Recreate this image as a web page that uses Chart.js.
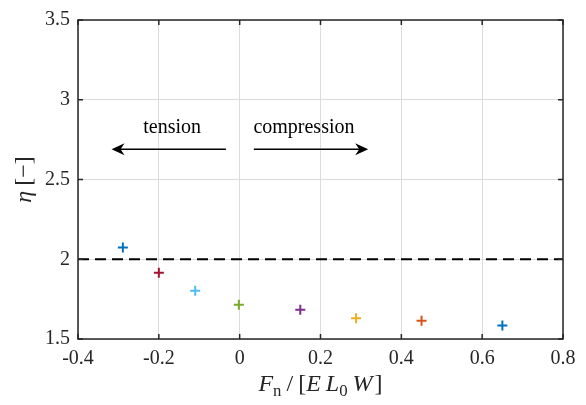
<!DOCTYPE html>
<html>
<head>
<meta charset="utf-8">
<script src="https://cdn.jsdelivr.net/npm/chart.js@4.4.1/dist/chart.umd.min.js"></script>
<style>
  html, body { margin: 0; padding: 0; background: #fff; }
  #c { display: block; }
</style>
</head>
<body>
<canvas id="c" width="586" height="405"></canvas>
<script>
// data
const forceValues = [-0.289, -0.2, -0.11, -0.002, 0.15, 0.288, 0.45, 0.65];
const etaValues = [2.074, 1.915, 1.802, 1.714, 1.683, 1.630, 1.615, 1.585];
const pointColors = ['#0072BD', '#A2142F', '#4DBEEE', '#77AC30', '#7E2F8E', '#EDB120', '#D95319', '#0072BD'];
const refLineX = [-0.4, 0.8];
const refLineY = [2, 2];
const xTicks = [-0.4, -0.2, 0, 0.2, 0.4, 0.6, 0.8];
const yTicks = [1.5, 2, 2.5, 3, 3.5];

// annotation text and arrows (data coords)
const notes = [
  { text: 'tension', x: -0.167, y: 2.79 },
  { text: 'compression', x: 0.159, y: 2.79 }
];
const arrows = [
  { from: -0.034, to: -0.317, y: 2.69 },
  { from: 0.035, to: 0.318, y: 2.69 }
];

const SERIF = '"Liberation Serif", "DejaVu Serif", serif';
const axisColor = '#262626';

function fmt(v) {
  return String(Number(v.toFixed(2)));
}

// draws a row of text pieces (italic / subscript) centred at x
function drawRich(ctx, parts, x, y, size) {
  const pieces = parts.map(p => {
    const s = p.sub ? size * 0.7 : size;
    ctx.font = (p.italic ? 'italic ' : '') + s + 'px ' + SERIF;
    return { p, s, w: ctx.measureText(p.t).width + (p.gap || 0) };
  });
  const total = pieces.reduce((a, b) => a + b.w, 0);
  let cx = x - total / 2;
  pieces.forEach(({ p, s, w }) => {
    ctx.font = (p.italic ? 'italic ' : '') + s + 'px ' + SERIF;
    ctx.fillText(p.t, cx, y + (p.sub ? size * 0.22 : 0));
    cx += w;
  });
}

function drawArrow(ctx, x1, x2, y) {
  const dir = Math.sign(x2 - x1);
  ctx.beginPath();
  ctx.moveTo(x1, y);
  ctx.lineTo(x2 - dir * 6, y);
  ctx.stroke();
  ctx.beginPath();
  ctx.moveTo(x2, y);
  ctx.lineTo(x2 - dir * 13, y - 6);
  ctx.lineTo(x2 - dir * 9, y);
  ctx.lineTo(x2 - dir * 13, y + 6);
  ctx.closePath();
  ctx.fill();
}

const framePlugin = {
  id: 'frame',
  afterDraw(chart) {
    const ctx = chart.ctx;
    const a = chart.chartArea;
    const xs = chart.scales.x, ys = chart.scales.y;
    ctx.save();

    // annotations
    ctx.fillStyle = '#000';
    ctx.strokeStyle = '#000';
    ctx.lineWidth = 1.6;
    ctx.font = '20px ' + SERIF;
    ctx.textAlign = 'center';
    ctx.textBaseline = 'alphabetic';
    notes.forEach(n => ctx.fillText(n.text, xs.getPixelForValue(n.x), ys.getPixelForValue(n.y)));
    arrows.forEach(ar => drawArrow(ctx, xs.getPixelForValue(ar.from), xs.getPixelForValue(ar.to), ys.getPixelForValue(ar.y)));

    // box and inward ticks
    ctx.strokeStyle = axisColor;
    ctx.lineWidth = 1.5;
    ctx.strokeRect(a.left, a.top, a.right - a.left, a.bottom - a.top);
    ctx.beginPath();
    xTicks.forEach(v => {
      const px = xs.getPixelForValue(v);
      ctx.moveTo(px, a.bottom); ctx.lineTo(px, a.bottom - 5);
      ctx.moveTo(px, a.top); ctx.lineTo(px, a.top + 5);
    });
    yTicks.forEach(v => {
      const py = ys.getPixelForValue(v);
      ctx.moveTo(a.left, py); ctx.lineTo(a.left + 5, py);
      ctx.moveTo(a.right, py); ctx.lineTo(a.right - 5, py);
    });
    ctx.stroke();

    // axis titles
    ctx.fillStyle = axisColor;
    ctx.textAlign = 'left';
    ctx.textBaseline = 'alphabetic';
    drawRich(ctx, [
      { t: 'F', italic: true },
      { t: 'n', sub: true, gap: 5 },
      { t: '/', gap: 5 },
      { t: '[' },
      { t: 'E', italic: true, gap: 5 },
      { t: 'L', italic: true },
      { t: '0', sub: true, gap: 5 },
      { t: 'W', italic: true, gap: 2 },
      { t: ']' }
    ], (a.left + a.right) / 2, 391, 24);

    ctx.translate(25, (a.top + a.bottom) / 2);
    ctx.rotate(-Math.PI / 2);
    ctx.textBaseline = 'middle';
    drawRich(ctx, [
      { t: 'η', italic: true, gap: 5 },
      { t: '[−]' }
    ], 0, 0, 24);
    ctx.restore();
  }
};

new Chart(document.getElementById('c'), {
  type: 'scatter',
  data: {
    datasets: [
      {
        data: forceValues.map((x, i) => ({ x, y: etaValues[i] })),
        pointStyle: 'cross',
        pointRadius: 5,
        pointHoverRadius: 5,
        pointBorderWidth: 2,
        borderColor: pointColors,
        backgroundColor: pointColors
      },
      {
        type: 'line',
        data: refLineX.map((x, i) => ({ x, y: refLineY[i] })),
        borderColor: '#000',
        borderWidth: 2,
        borderDash: [11, 6],
        pointRadius: 0,
        fill: false
      }
    ]
  },
  options: {
    responsive: false,
    animation: false,
    devicePixelRatio: 1,
    layout: { padding: { top: 15, right: 23, left: 0, bottom: 0 } },
    plugins: { legend: { display: false }, tooltip: { enabled: false } },
    scales: {
      x: {
        type: 'linear',
        min: -0.4,
        max: 0.8,
        afterBuildTicks: s => { s.ticks = xTicks.map(v => ({ value: v })); },
        afterFit: s => { s.height = 66; },
        ticks: {
          callback: v => fmt(v),
          color: axisColor,
          font: { family: SERIF, size: 20 },
          padding: 8,
          maxRotation: 0
        },
        grid: { color: '#dcdcdc', lineWidth: 1, drawTicks: false },
        border: { display: false }
      },
      y: {
        type: 'linear',
        min: 1.5,
        max: 3.5,
        afterBuildTicks: s => { s.ticks = yTicks.map(v => ({ value: v })); },
        afterFit: s => { s.width = 78; },
        ticks: {
          callback: v => fmt(v),
          color: axisColor,
          font: { family: SERIF, size: 20 },
          padding: 8
        },
        grid: { color: '#dcdcdc', lineWidth: 1, drawTicks: false },
        border: { display: false }
      }
    }
  },
  plugins: [framePlugin]
});
</script>
</body>
</html>
